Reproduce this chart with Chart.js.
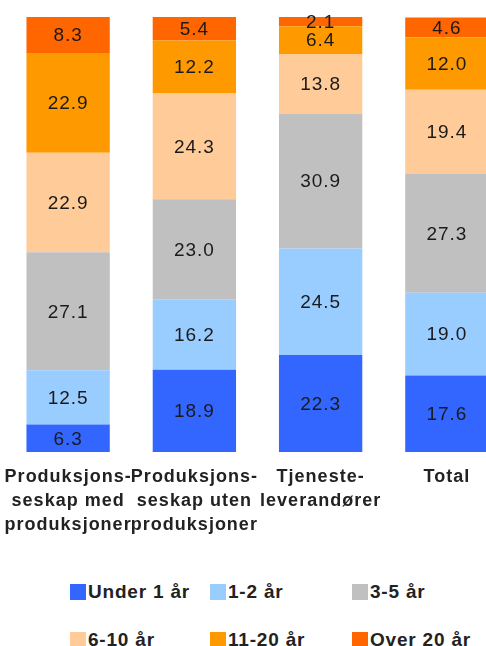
<!DOCTYPE html>
<html>
<head>
<meta charset="utf-8">
<script src="https://cdn.jsdelivr.net/npm/chart.js@4"></script>
<style>
  html, body { margin: 0; padding: 0; background: #fff; overflow: hidden; }
  #wrap { position: relative; width: 486px; height: 646px; overflow: hidden; }
  #box { position: absolute; left: 0; top: 0; width: 512px; height: 560px; }
  .leg { position: absolute; font: bold 19px "Liberation Sans", Arial, sans-serif; letter-spacing: 0.8px; color: #222; white-space: nowrap; }
  .leg i { display: inline-block; width: 16px; height: 16px; vertical-align: -2px; margin-right: 2px; }
</style>
</head>
<body>
<div id="wrap">
  <div id="box"><canvas id="ageChart"></canvas></div>
  <div id="legend"></div>
</div>
<script>
// categories (x-axis)
var categories = [
    ['Produksjons-', 'seskap med', 'produksjoner'],
    ['Produksjons-', 'seskap uten', 'produksjoner'],
    ['Tjeneste-', 'leverandører'],
    'Total'
];

// series names + values (percent)
var seriesNames = ['Under 1 år', '1-2 år', '3-5 år', '6-10 år', '11-20 år', 'Over 20 år'];
var under1 = [6.3, 18.9, 22.3, 17.6];
var y1to2 = [12.5, 16.2, 24.5, 19.0];
var y3to5 = [27.1, 23.0, 30.9, 27.3];
var y6to10 = [22.9, 24.3, 13.8, 19.4];
var y11to20 = [22.9, 12.2, 6.4, 12.0];
var over20 = [8.3, 5.4, 2.1, 4.6];

var colors = ['#3366FF', '#99CCFF', '#C0C0C0', '#FFCC99', '#FF9900', '#FF6600'];
var allSeries = [under1, y1to2, y3to5, y6to10, y11to20, over20];

// the old chart had wide letter spacing, canvas loses it on resize so set it every time
var spacing = {
    id: 'spacing',
    beforeLayout: function (chart) { chart.ctx.letterSpacing = '1px'; },
    beforeDraw: function (chart) { chart.ctx.letterSpacing = '1px'; }
};

// draws the value in the middle of each segment
var valueLabels = {
    id: 'valueLabels',
    afterDatasetsDraw: function (chart) {
        var ctx = chart.ctx;
        ctx.save();
        ctx.letterSpacing = '1px';
        ctx.font = '19px "Liberation Sans", Arial, sans-serif';
        ctx.fillStyle = '#1a1a1a';
        ctx.textAlign = 'center';
        ctx.textBaseline = 'middle';
        chart.data.datasets.forEach(function (ds, i) {
            chart.getDatasetMeta(i).data.forEach(function (bar, j) {
                var p = bar.getProps(['x', 'y', 'base'], true);
                ctx.fillText(ds.data[j].toFixed(1), p.x, (p.y + p.base) / 2 + 1);
            });
        });
        ctx.restore();
    }
};

new Chart(document.getElementById('ageChart'), {
    type: 'bar',
    data: {
        labels: categories,
        datasets: allSeries.map(function (d, i) {
            return {
                label: seriesNames[i],
                data: d,
                backgroundColor: colors[i],
                borderWidth: 0,
                categoryPercentage: 1,
                barPercentage: 0.66
            };
        })
    },
    options: {
        responsive: true,
        maintainAspectRatio: false,
        animation: false,
        layout: { padding: { top: 17, left: 5, right: 2, bottom: 0 } },
        plugins: { legend: { display: false }, tooltip: { enabled: false } },
        scales: {
            x: {
                stacked: true,
                grid: { display: false, drawTicks: false },
                border: { display: false },
                ticks: {
                    color: '#222',
                    font: { family: '"Liberation Sans", Arial, sans-serif', size: 18, weight: 'bold', lineHeight: 1.33 },
                    padding: 13,
                    maxRotation: 0,
                    autoSkip: false
                },
                afterFit: function (scale) {
                    scale.height = 108;
                    // labels may stick out left, keep the plot where it is
                    scale.paddingLeft = 0;
                    scale.paddingRight = 0;
                }
            },
            y: {
                stacked: true,
                display: false,
                min: 0,
                max: 100
            }
        }
    },
    plugins: [spacing, valueLabels]
});

// legend, 3 columns x 2 rows
var legX = [70, 210, 352];
var legY = [587, 635];
var legend = document.getElementById('legend');
seriesNames.forEach(function (name, i) {
    var el = document.createElement('div');
    el.className = 'leg';
    el.style.left = legX[i % 3] + 'px';
    el.style.top = (legY[Math.floor(i / 3)] - 6) + 'px';
    el.innerHTML = '<i style="background:' + colors[i] + '"></i>' + name;
    legend.appendChild(el);
});
</script>
</body>
</html>
